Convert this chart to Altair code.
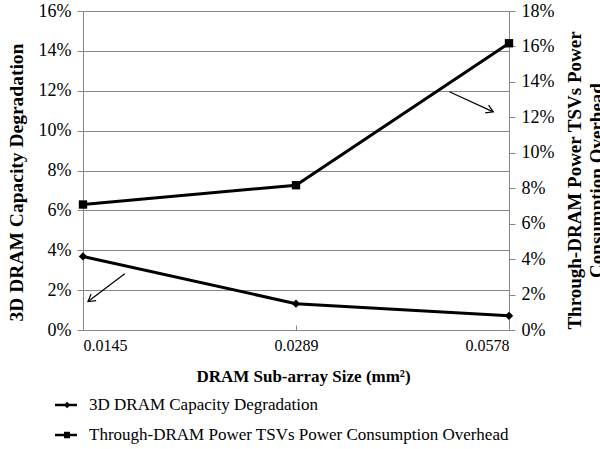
import altair as alt
import pandas as pd

# ---------------- data ----------------
x_index = [0, 1, 2]
x_labels = ["0.0145", "0.0289", "0.0578"]
capacity = [0.0369, 0.0132, 0.0071]          # left axis
power = [0.0708, 0.0817, 0.1618]             # right axis
series_names = ["3D DRAM Capacity Degradation",
                "Through-DRAM Power TSVs Power Consumption Overhead"]

left_ticks = [0, 0.02, 0.04, 0.06, 0.08, 0.10, 0.12, 0.14, 0.16]
right_ticks = [0, 0.02, 0.04, 0.06, 0.08, 0.10, 0.12, 0.14, 0.16, 0.18]

# annotation arrows, in data units (x index, left-axis value)
arrow_x = [0.196, 1.72]
arrow_y = [0.0282, 0.1195]
arrow_x2 = [0.0235, 1.926]
arrow_y2 = [0.0143, 0.1094]
arrow_angle = [143, 24]

FONT = "Liberation Serif"
GRAY = "#868686"

df = pd.DataFrame({"x": x_index, "cap": capacity, "pow": power})
arrows = pd.DataFrame({"ax": arrow_x, "ay": arrow_y, "ax2": arrow_x2,
                       "ay2": arrow_y2, "ang": arrow_angle})
legend_df = pd.DataFrame({"series": series_names, "lx": [0, 0], "ly": [-1, -1]})

label_expr = "[" + ",".join("'" + s + "'" for s in x_labels) + "][datum.value]"

x_axis = alt.Axis(values=x_index, labelExpr=label_expr, title="DRAM Sub-array Size (mm²)",
                  domain=False, grid=False, tickSize=5, tickColor=GRAY, offset=-5,
                  labelPadding=7, labelFont=FONT, labelFontSize=16, labelColor="black",
                  titleFont=FONT, titleFontSize=17, titleFontWeight="bold", titleColor="black",
                  titleX=220, titleY=56, titleBaseline="alphabetic", titleAlign="center")
x_scale = alt.Scale(domain=[0, 2], nice=False, zero=False)


def X(field):
    return alt.X(field, type="quantitative", scale=x_scale, axis=x_axis)


left_axis = alt.Axis(orient="left", values=left_ticks, format=".0%", grid=True,
                     gridColor=GRAY, gridWidth=1, domainColor=GRAY, tickColor=GRAY,
                     tickSize=6, labelPadding=6, labelFont=FONT, labelFontSize=18,
                     labelColor="black", title="3D DRAM Capacity Degradation",
                     titleFont=FONT, titleFontSize=19.5, titleFontWeight="bold",
                     titleColor="black", titleAngle=270, titleX=-61, titleY=171,
                     titleAlign="center", titleBaseline="alphabetic")
left_scale = alt.Scale(domain=[0, 0.16], nice=False, zero=False)


def YL(field):
    return alt.Y(field, type="quantitative", scale=left_scale, axis=left_axis)


right_axis = alt.Axis(orient="right", values=right_ticks, format=".0%", grid=False,
                      domainColor=GRAY, tickColor=GRAY, tickSize=6, labelPadding=6,
                      labelFont=FONT, labelFontSize=18, labelColor="black",
                      title=["Through-DRAM Power TSVs Power", "Consumption Overhead"],
                      titleFont=FONT, titleFontSize=19, titleFontWeight="bold",
                      titleColor="black", titleAngle=270, titleX=71, titleY=169,
                      titleAlign="center", titleBaseline="alphabetic", titleLineHeight=22)
right_scale = alt.Scale(domain=[0, 0.18], nice=False, zero=False)

# legend glyphs: a short thick line with the series marker on it (filled paths)
diamond_path = "M-1,-0.11H1V0.11H-1ZM0.1,-0.3L0.4,0L0.1,0.3L-0.2,0Z"
square_path = "M-1,-0.12H1V0.12H-1ZM-0.18,-0.3H0.36V0.3H-0.18Z"

base = alt.Chart(df)

cap_line = base.mark_line(color="black", strokeWidth=3).encode(x=X("x"), y=YL("cap"))
cap_pts = base.mark_point(shape="diamond", filled=True, color="black", size=70,
                          opacity=1).encode(x=X("x"), y=YL("cap"))

arrow_lines = alt.Chart(arrows).mark_rule(color="black", strokeWidth=1.2).encode(
    x=X("ax"), y=YL("ay"), x2="ax2", y2="ay2")
arrow_heads = alt.Chart(arrows).mark_point(
    shape="M-1,-0.6L0,0L-1,0.6", filled=False, color="black", strokeWidth=1.2,
    size=196, opacity=1).encode(x=X("ax2"), y=YL("ay2"),
                                angle=alt.Angle("ang:Q", scale=None))

legend_layer = alt.Chart(legend_df).mark_point(
    filled=True, color="black", clip=True, opacity=1
).encode(
    x=X("lx"), y=YL("ly"),
    shape=alt.Shape("series:N",
                    scale=alt.Scale(domain=series_names, range=[diamond_path, square_path]),
                    legend=alt.Legend(title=None, orient="none", legendX=-28, legendY=383,
                                      direction="vertical", labelFont=FONT, labelFontSize=17,
                                      labelColor="black", symbolSize=484, symbolStrokeWidth=0,
                                      symbolFillColor="black",
                                      rowPadding=11, labelOffset=12, padding=0, labelLimit=600)))

left = alt.layer(cap_line, cap_pts, arrow_lines, arrow_heads, legend_layer)

pow_line = base.mark_line(color="black", strokeWidth=3).encode(
    x=X("x"), y=alt.Y("pow:Q", scale=right_scale, axis=right_axis))
pow_pts = base.mark_point(shape="square", filled=True, color="black", size=70,
                          opacity=1).encode(
    x=X("x"), y=alt.Y("pow:Q", scale=right_scale, axis=right_axis))
right = alt.layer(pow_line, pow_pts)

chart = alt.layer(left, right).resolve_scale(y="independent").properties(
    width=426, height=319,
    padding={"left": 83, "top": 11, "right": 91, "bottom": 119},
    autosize=alt.AutoSizeParams(type="none"),
    background="white",
).configure(font=FONT).configure_view(stroke=None).configure_axis(
    labelFont=FONT, titleFont=FONT).configure_legend(labelFont=FONT)

chart.save("out.html", embed_options={"renderer": "svg", "actions": False})
